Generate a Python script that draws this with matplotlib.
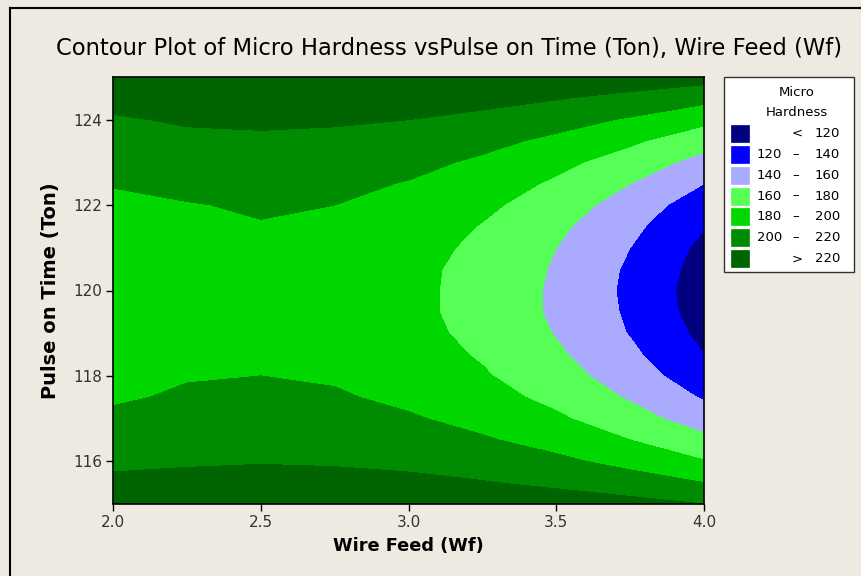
import numpy as np
import matplotlib.pyplot as plt
from matplotlib.lines import Line2D
from matplotlib.patches import Rectangle

# fitted micro hardness
wire_feed = [2.0, 2.25, 2.5, 2.75, 3.0, 3.25, 3.5, 3.75, 4.0]
pulse_on = [115.0, 115.5, 116.0, 116.5, 117.0, 117.5, 118.0, 118.5, 119.0, 119.5, 120.0,
            120.5, 121.0, 121.5, 122.0, 122.5, 123.0, 123.5, 124.0, 124.5, 125.0]
hardness = [
    [233, 233, 234, 234, 234, 233, 230, 226, 220],
    [224, 225, 226, 226, 224, 221, 216, 209, 200],
    [216, 218, 219, 218, 216, 211, 204, 194, 181],
    [209, 212, 213, 212, 208, 202, 193, 180, 165],
    [203, 207, 208, 206, 202, 194, 183, 168, 150],
    [198, 202, 204, 202, 196, 187, 175, 158, 138],
    [194, 199, 200, 198, 192, 182, 168, 150, 128],
    [191, 196, 198, 195, 189, 178, 163, 144, 120],
    [189, 195, 196, 193, 186, 175, 159, 139, 115],
    [188, 194, 195, 192, 185, 173, 157, 137, 111],
    [188, 194, 195, 192, 185, 173, 157, 136, 110],
    [189, 194, 196, 193, 185, 174, 158, 137, 112],
    [190, 196, 197, 194, 187, 176, 160, 140, 115],
    [193, 198, 199, 197, 190, 179, 164, 145, 121],
    [196, 199, 202, 200, 194, 184, 170, 151, 129],
    [201, 205, 207, 204, 199, 190, 177, 160, 140],
    [206, 210, 211, 210, 205, 197, 185, 171, 153],
    [212, 216, 217, 216, 212, 205, 196, 183, 168],
    [218, 222, 223, 222, 220, 215, 207, 198, 185],
    [226, 229, 230, 230, 229, 226, 221, 214, 206],
    [234, 236, 238, 239, 239, 238, 236, 233, 228],
]
levels = [120, 140, 160, 180, 200, 220]
band_colors = ['#000080', '#0000FF', '#AAAAFF', '#55FF55', '#00D800', '#008C00', '#006400']
band_labels = [('<', '120'), ('120', '140'), ('140', '160'), ('160', '180'),
               ('180', '200'), ('200', '220'), ('>', '220')]

W = 861
H = 576
bg = '#EEEAE1'

fig = plt.figure(figsize=(W / 100, H / 100), dpi=100, facecolor=bg)

def fx(px):
    return px / W

def fy(py):
    return 1 - py / H

ax = fig.add_axes([fx(113), fy(504), fx(704) - fx(113), fy(77) - fy(504)])
bounds = [-1000] + levels + [1000]
ax.contourf(wire_feed, pulse_on, np.array(hardness), levels=bounds, colors=band_colors)
ax.set_xlim(2.0, 4.0)
ax.set_ylim(115, 125)
ax.set_xticks([2.0, 2.5, 3.0, 3.5, 4.0])
ax.set_xticklabels(['2.0', '2.5', '3.0', '3.5', '4.0'])
ax.set_yticks([116, 118, 120, 122, 124])
ax.tick_params(direction='out', length=5, width=1, labelsize=11, labelcolor='#333333', pad=3)
for s in ax.spines.values():
    s.set_linewidth(1.2)
ax.set_xlabel('Wire Feed (Wf)', fontsize=12.8, fontweight='bold', labelpad=5)
ax.set_ylabel('Pulse on Time (Ton)', fontsize=14, fontweight='bold', labelpad=9)

fig.text(fx(449), fy(48), 'Contour Plot of Micro Hardness vsPulse on Time (Ton), Wire Feed (Wf)',
         ha='center', va='center', fontsize=16.3)

# outer window frame (top and left edges only)
fig.add_artist(Line2D([fx(10), 1], [fy(8), fy(8)], color='black', lw=1.5))
fig.add_artist(Line2D([fx(10), fx(10)], [fy(8), 0], color='black', lw=1.5))

# legend box
fig.add_artist(Rectangle((fx(724), fy(272)), fx(854) - fx(724), fy(77) - fy(272),
                         facecolor='white', edgecolor='#333333', lw=1))
fig.text(fx(797), fy(92), 'Micro', ha='center', va='center', fontsize=9.5)
fig.text(fx(797), fy(112), 'Hardness', ha='center', va='center', fontsize=9.5)
for i, (lo, hi) in enumerate(band_labels):
    yc = 133.3 + i * 20.9
    fig.add_artist(Rectangle((fx(731), fy(yc + 8.5)), fx(18), fy(0) - fy(17),
                             facecolor=band_colors[i], edgecolor=band_colors[i], lw=0.5))
    if lo in ('<', '>'):
        fig.text(fx(797), fy(yc), lo, ha='center', va='center', fontsize=9.5)
    else:
        fig.text(fx(782), fy(yc), lo, ha='right', va='center', fontsize=9.5)
        fig.text(fx(796), fy(yc), '\u2013', ha='center', va='center', fontsize=9.5)
    fig.text(fx(840), fy(yc), hi, ha='right', va='center', fontsize=9.5)

fig.savefig('out.png', dpi=100, facecolor=bg)
